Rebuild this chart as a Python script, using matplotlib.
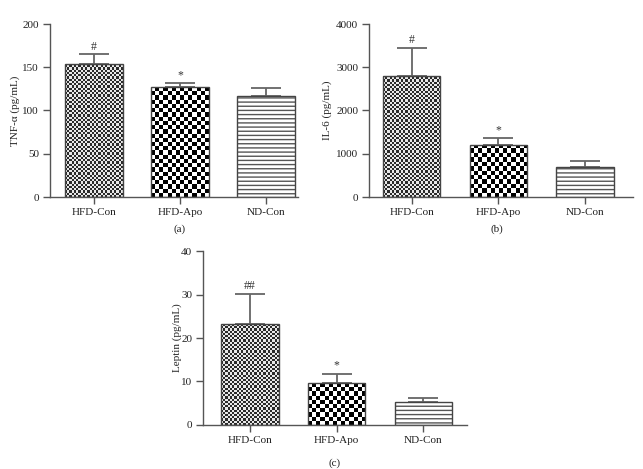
import numpy as np
import matplotlib
matplotlib.use("Agg")
import matplotlib.pyplot as plt

plt.rcParams['font.family'] = ['Liberation Serif', 'DejaVu Serif']

groups = ["HFD-Con", "HFD-Apo", "ND-Con"]

tnf_mean = [153.8, 126.8, 117.0]
tnf_err = [11.2, 4.6, 8.6]
tnf_marks = ["#", "*", ""]

il6_mean = [2805, 1209, 700]
il6_err = [647, 148, 125]
il6_marks = ["#", "*", ""]

lep_mean = [23.2, 9.6, 5.3]
lep_err = [6.9, 2.2, 0.8]
lep_marks = ["##", "*", ""]

W, H = 643, 469
fig = plt.figure(figsize=(W / 100, H / 100), dpi=100)

EDGE = "#444444"
SPINE = "#555555"
FS = 8


def add_ax(left, right, top, bottom):
    return fig.add_axes([left / W, (H - bottom) / H, (right - left) / W, (bottom - top) / H])


def checker(ax, bar, x, w, h, cell_px, c0, c1):
    p0 = ax.transData.transform((x - w / 2, 0))
    p1 = ax.transData.transform((x + w / 2, h))
    nx = max(1, int(round((p1[0] - p0[0]) / cell_px)))
    ny = max(1, int(round((p1[1] - p0[1]) / cell_px)))
    arr = np.add.outer(np.arange(ny), np.arange(nx)) % 2
    cmap = matplotlib.colors.ListedColormap([c0, c1])
    im = ax.imshow(arr, cmap=cmap, extent=(x - w / 2, x + w / 2, 0, h), aspect='auto',
                   interpolation='nearest', origin='lower', zorder=1.5)
    im.set_clip_path(bar)


def panel(ax, means, errs, marks, ylim, yticks, ylabel, xlim, bw, mark_off, label, label_xy, ylab_x):
    ax.set_xlim(*xlim)
    ax.set_ylim(*ylim)
    x = np.arange(len(groups))
    bars = ax.bar(x, means, bw, facecolor='none', edgecolor=EDGE, linewidth=1.0, zorder=2)
    checker(ax, bars[0], x[0], bw, means[0], 2.2, "#2a2a2a", "#e8e8e8")
    checker(ax, bars[1], x[1], bw, means[1], 4.2, "#000000", "#ffffff")
    ax.bar(x[2], means[2], bw, facecolor='white', edgecolor="#555555", hatch='----',
           linewidth=0, zorder=1.6)
    ax.errorbar(x, np.array(means), yerr=[np.zeros(3), errs], fmt='none', ecolor='#666666',
                elinewidth=1.3, capsize=10.5, capthick=1.3, zorder=1.4)
    for xi, m, e, mk in zip(x, means, errs, marks):
        if mk:
            ax.text(xi, m + e + mark_off, mk, ha='center', va='bottom', fontsize=8.5, color='#333333')
    ax.set_xlim(*xlim)
    ax.set_ylim(*ylim)
    ax.set_yticks(yticks)
    ax.set_xticks(x)
    ax.set_xticklabels(groups)
    for s in ['top', 'right']:
        ax.spines[s].set_visible(False)
    for s in ['left', 'bottom']:
        ax.spines[s].set_color(SPINE)
        ax.spines[s].set_linewidth(1.0)
    ax.tick_params(axis='both', colors=SPINE, labelcolor='#222222', labelsize=FS, length=5, width=1.0)
    ax.tick_params(axis='x', pad=3)
    ax.tick_params(axis='y', pad=3)
    ax.set_ylabel(ylabel, fontsize=FS, color='#222222')
    ax.yaxis.set_label_coords(ylab_x, 0.5)
    fig.text(label_xy[0] / W, 1 - label_xy[1] / H, label, ha='center', va='center', fontsize=FS, color='#222222')


ax1 = add_ax(50, 298, 24, 197)
panel(ax1, tnf_mean, tnf_err, tnf_marks, (0, 200), [0, 50, 100, 150, 200], "TNF-α (pg/mL)",
      (-0.512, 2.372), 0.674, 2, "(a)", (180, 229), -0.121)

ax2 = add_ax(369.3, 633, 24, 197)
panel(ax2, il6_mean, il6_err, il6_marks, (0, 4000), [0, 1000, 2000, 3000, 4000], "IL-6 (pg/mL)",
      (-0.489, 2.554), 0.66, 40, "(b)", (497, 229), -0.141)

ax3 = add_ax(203.3, 466.7, 251.3, 424.7)
panel(ax3, lep_mean, lep_err, lep_marks, (0, 40), [0, 10, 20, 30, 40], "Leptin (pg/mL)",
      (-0.539, 2.5), 0.66, 0.4, "(c)", (335, 463), -0.081)

fig.savefig("out.png", dpi=100, facecolor='white')
